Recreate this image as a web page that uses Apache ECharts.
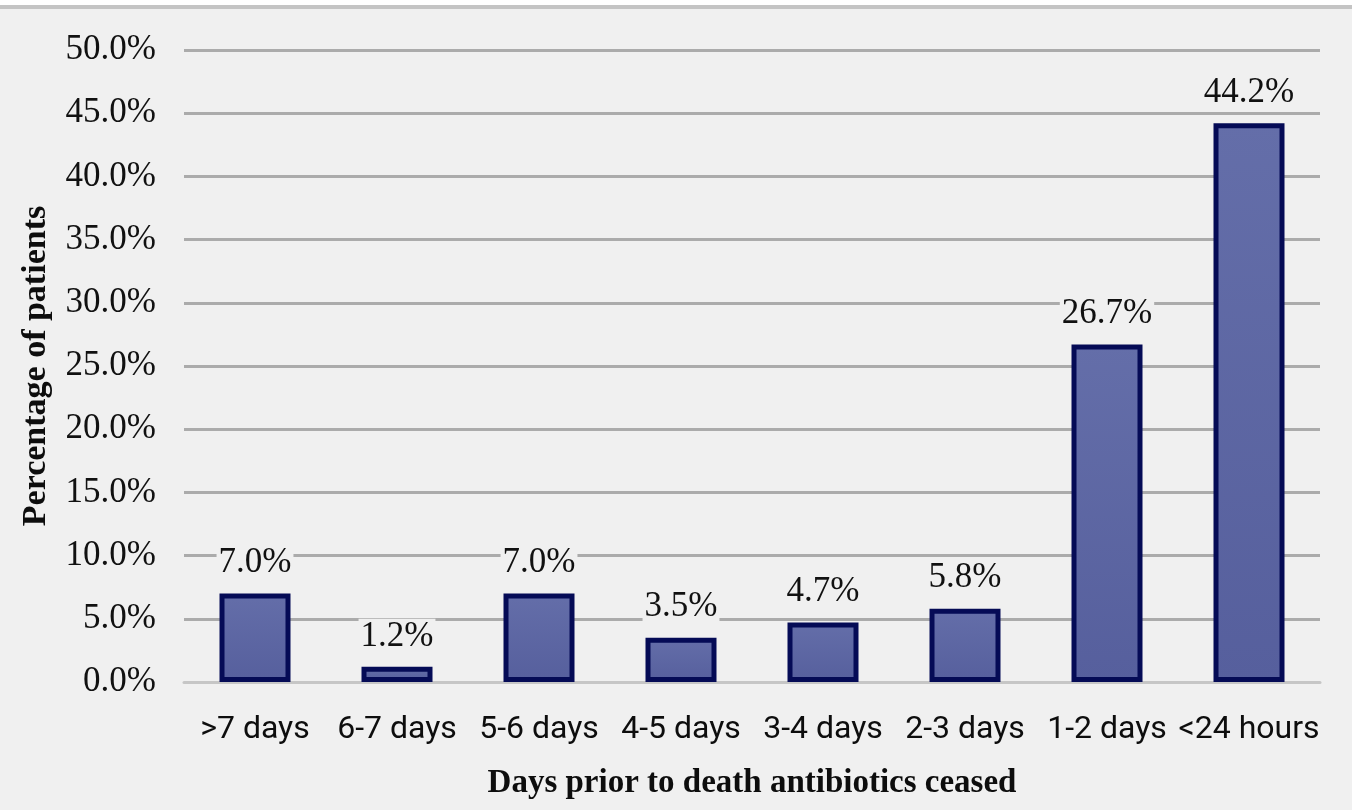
<!DOCTYPE html>
<html>
<head>
<meta charset="utf-8">
<script src="https://cdn.jsdelivr.net/npm/echarts@6/dist/echarts.min.js"></script>
<style>
  html, body { margin: 0; padding: 0; background: #ffffff; }
  #wrap { position: relative; width: 1352px; height: 810px; overflow: hidden; background: #f0f0f0; }
  #topline { position: absolute; left: 0; top: 0; width: 1352px; height: 5px; background: #ffffff; border-bottom: 4px solid #c4c4c4; z-index: 2; }
  #chart { position: absolute; left: 0; top: 0; width: 1352px; height: 810px; }
</style>
</head>
<body>
<div id="wrap">
  <div id="chart"></div>
  <div id="topline"></div>
</div>
<script>
const categories = ['>7 days', '6-7 days', '5-6 days', '4-5 days', '3-4 days', '2-3 days', '1-2 days', '<24 hours'];
const percentages = [7.0, 1.2, 7.0, 3.5, 4.7, 5.8, 26.7, 44.2];
const yAxisTitle = 'Percentage of patients';
const xAxisTitle = 'Days prior to death antibiotics ceased';

const serif = '"Liberation Serif", "DejaVu Serif", serif';
const sans = 'Roboto, "Liberation Sans", sans-serif';

const chart = echarts.init(document.getElementById('chart'), null, { renderer: 'canvas' });
chart.setOption({
  backgroundColor: '#f0f0f0',
  animation: false,
  grid: { left: 184, right: 32, top: 50, bottom: 128, containLabel: false },
  xAxis: {
    type: 'category',
    data: categories,
    name: xAxisTitle,
    nameLocation: 'middle',
    nameGap: 85,
    nameTextStyle: { fontFamily: serif, fontWeight: 'bold', fontSize: 33, color: '#0d0d0d' },
    axisLine: { show: true, lineStyle: { color: '#c6c6c6', width: 3 } },
    axisTick: { show: false },
    axisLabel: { margin: 32, fontFamily: sans, fontSize: 32, color: '#0d0d0d', interval: 0 }
  },
  yAxis: {
    type: 'value',
    min: 0, max: 50, interval: 5,
    name: yAxisTitle,
    nameLocation: 'middle',
    nameGap: 131,
    nameTextStyle: { fontFamily: serif, fontWeight: 'bold', fontSize: 34, color: '#0d0d0d' },
    axisLine: { show: false },
    axisTick: { show: false },
    axisLabel: {
      margin: 28, fontFamily: serif, fontSize: 35, color: '#111111',
      formatter: v => v.toFixed(1) + '%'
    },
    splitLine: { show: true, lineStyle: { color: '#ababab', width: 3 } }
  },
  series: [{
    type: 'bar',
    data: percentages,
    barWidth: '50%',
    itemStyle: {
      color: new echarts.graphic.LinearGradient(0, 0, 0, 1, [
        { offset: 0, color: '#646ea9' },
        { offset: 1, color: '#565f9d' }
      ]),
      borderColor: '#050b56',
      borderWidth: 5
    },
    label: {
      show: true,
      position: 'top',
      distance: 13,
      fontFamily: serif,
      fontSize: 35,
      color: '#111111',
      backgroundColor: '#f0f0f0',
      padding: [0, 2],
      formatter: p => p.value.toFixed(1) + '%'
    }
  }]
});
</script>
</body>
</html>
